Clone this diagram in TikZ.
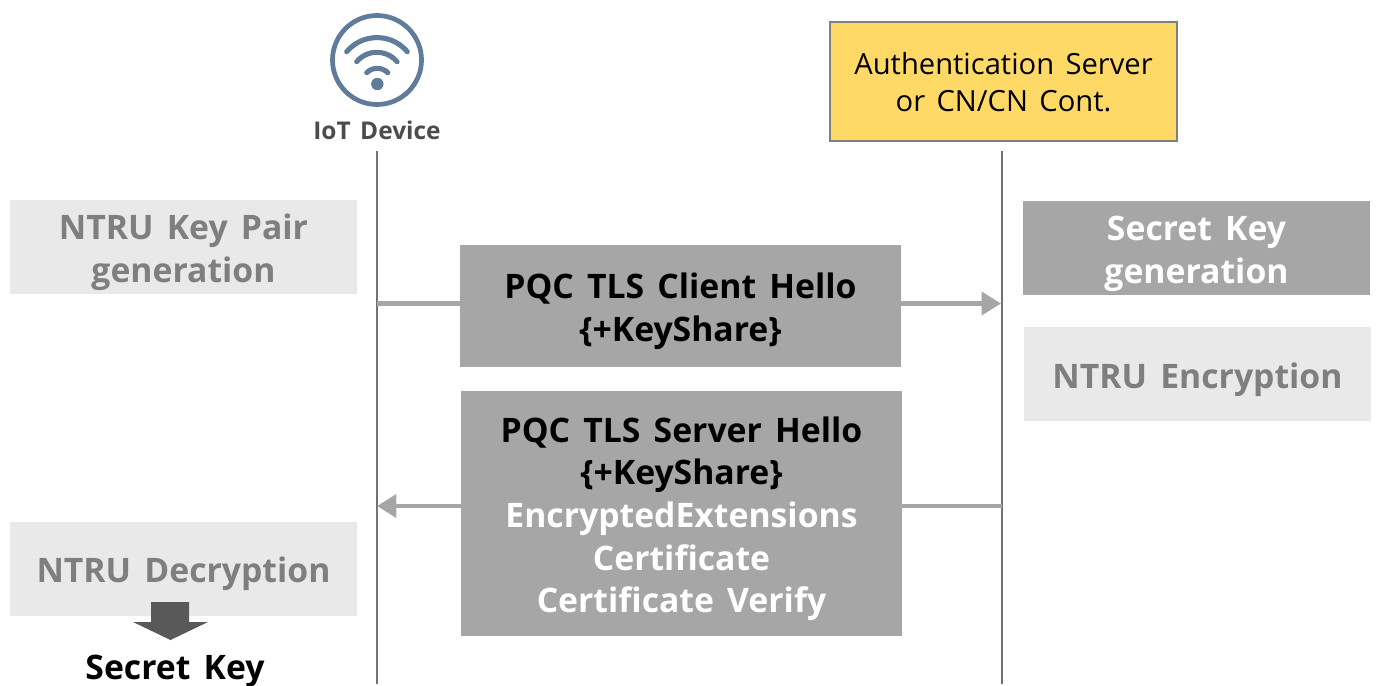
\documentclass[tikz,border=0pt]{standalone}
\usepackage{fontspec}
\usetikzlibrary{arrows.meta}
\setmainfont{Open Sans}[WordSpace=1.5]
\definecolor{msgfill}{HTML}{A6A6A6}
\definecolor{stepfill}{HTML}{E9E9E9}
\definecolor{steptext}{HTML}{7F7F7F}
\definecolor{serverfill}{HTML}{FFD966}
\definecolor{wifiblue}{HTML}{5F7C9A}
\newcommand{\firstline}{\rule{0pt}{20.5pt}}
\tikzset{
  lifeline/.style={draw=steptext!90!black, line width=1.2pt},
  msgline/.style={draw=msgfill, line width=2.4pt},
  msgtip/.style={msgline, -{Triangle[length=11pt,width=13pt]}},
  msgbox/.style={fill=msgfill, inner sep=0pt, align=center, text=white, font=\bfseries\fontsize{19.2}{24.3}\selectfont},
  keybox/.style={fill=stepfill, minimum width=197.5pt, minimum height=53.5pt, inner sep=0pt, align=center, text=steptext, font=\bfseries\fontsize{19.2}{24}\selectfont},
  wifiarc/.style={draw=wifiblue, line width=2.9pt, line cap=round}
}
\begin{document}
\begin{tikzpicture}[x=0.02cm, y=-0.02cm]
\useasboundingbox (0,0) rectangle (1376,686);

% Lifelines
\coordinate (devtop) at (377,151);
\coordinate (devend) at (377,684);
\coordinate (srvtop) at (1002,151);
\coordinate (srvend) at (1002,684);
\draw[lifeline] (devtop) -- (devend);
\draw[lifeline] (srvtop) -- (srvend);

% Wifi icon of the device
\draw[wifiblue, line width=2.7pt] (377,60) circle (44.5);
\draw[wifiarc] (346.7,51.7) arc[start angle=140, end angle=40, radius=22.5pt];
\draw[wifiarc] (356.7,61.7) arc[start angle=140, end angle=40, radius=15pt];
\draw[wifiarc] (366.7,72.7) arc[start angle=135, end angle=45, radius=8.5pt];
\fill[wifiblue] (377.3,84) circle (6.2);
\node[text=black!70, font=\bfseries\fontsize{13.9}{16}\selectfont] (iotlabel) at (377,130.5) {IoT Device};

% Server box
\node[draw=steptext, line width=1.2pt, fill=serverfill, minimum width=197.5pt, minimum height=67.5pt, inner sep=0pt, align=center, font=\fontsize{16.6}{20.8}\selectfont] (server) at (1003.5,81.5) {\rule{0pt}{13.5pt}Authentication Server\\or CN/CN Cont.};

% Steps on the device side
\node[keybox] (keypair) at (183.5,247) {\firstline NTRU Key Pair\\generation};
\node[keybox, text height=20.2pt, text depth=4pt] (decrypt) at (183.5,568.5) {NTRU Decryption};
\node[text=black, font=\bfseries\fontsize{19.2}{24}\selectfont] (secret) at (175,671) {Secret Key};

% Steps on the server side
\node[keybox, fill=msgfill, text=white] (keygen) at (1196.5,248) {\firstline Secret Key\\generation};
\node[keybox, text height=20.2pt, text depth=4pt] (encrypt) at (1197.5,374) {NTRU Encryption};

% Messages
\node[msgbox, minimum width=251pt, minimum height=69.5pt] (client) at (680.5,306) {\firstline\textcolor{black}{PQC TLS Client Hello}\\\textcolor{black}{\{+KeyShare\}}};
\node[msgbox, minimum width=251pt, minimum height=139.5pt] (hello) at (681.5,513.5) {\firstline\textcolor{black}{PQC TLS Server Hello}\\\textcolor{black}{\{+KeyShare\}}\\EncryptedExtensions\\Certificate\\Certificate Verify};

% Arrows between lifelines and messages
\coordinate (clientfrom) at (377,303.5);
\coordinate (clientto) at (1001,303.5);
\coordinate (hellofrom) at (1002,506);
\coordinate (helloto) at (377,506);
\draw[msgline] (clientfrom) -- (clientfrom -| client.west);
\draw[msgtip] (clientto -| client.east) -- (clientto);
\draw[msgline] (hellofrom) -- (hellofrom -| hello.east);
\draw[msgtip] (helloto -| hello.west) -- (helloto);

% Block arrow to the secret key
\fill[black!65] (151,602) -- (189,602) -- (189,622) -- (208,622) -- (170.5,640) -- (133,622) -- (151,622) -- cycle;
\end{tikzpicture}
\end{document}
